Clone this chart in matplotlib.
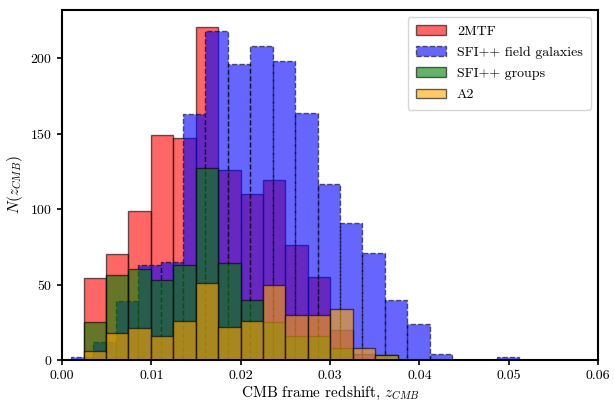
import numpy as np
import matplotlib
matplotlib.use('Agg')
import matplotlib.pyplot as plt

plt.rcParams['font.family'] = 'serif'
plt.rcParams['font.serif'] = ['cmr10']
plt.rcParams['mathtext.fontset'] = 'cm'
plt.rcParams['axes.unicode_minus'] = False
plt.rcParams['axes.formatter.use_mathtext'] = True

# bin layout
edges_2mtf = np.linspace(0.00242, 0.03756, 15)   # 2MTF, SFI++ groups and A2 share these
edges_sfi = np.linspace(0.0010, 0.05371, 22)     # SFI++ field galaxies

# counts per bin
n_2mtf = [54, 70, 99, 149, 147, 221, 126, 110, 119, 76, 55, 20, 4, 0]
n_sfi_field = [2, 12, 39, 63, 65, 163, 218, 196, 208, 198, 164, 117, 91, 71, 40, 24, 4, 0, 0, 2, 0]
n_sfi_groups = [25, 56, 60, 53, 63, 127, 64, 40, 25, 16, 16, 8, 0, 3]
n_a2 = [6, 18, 21, 16, 26, 51, 22, 26, 50, 30, 30, 34, 8, 3]

mid_2mtf = 0.5*(edges_2mtf[1:] + edges_2mtf[:-1])
mid_sfi = 0.5*(edges_sfi[1:] + edges_sfi[:-1])

fig = plt.figure(figsize=(6.14, 4.03), dpi=100)
ax = fig.add_axes([0.101, 0.107, 0.873, 0.868])

ax.hist(mid_2mtf, bins=edges_2mtf, weights=n_2mtf, color='red', alpha=0.6,
        edgecolor='k', lw=1.0, label='2MTF')
ax.hist(mid_sfi, bins=edges_sfi, weights=n_sfi_field, color='blue', alpha=0.6,
        edgecolor='k', lw=1.0, ls='--', label='SFI++ field galaxies')
ax.hist(mid_2mtf, bins=edges_2mtf, weights=n_sfi_groups, color='green', alpha=0.6,
        edgecolor='k', lw=1.0, label='SFI++ groups')
ax.hist(mid_2mtf, bins=edges_2mtf, weights=n_a2, color='orange', alpha=0.6,
        edgecolor='k', lw=1.0, label='A2')

ax.set_xlim(0, 0.06)
ax.set_xticks([0, 0.01, 0.02, 0.03, 0.04, 0.05, 0.06])
ax.set_xticklabels(['0.00', '0.01', '0.02', '0.03', '0.04', '0.05', '0.06'])
ax.set_xlabel(r'CMB frame redshift, $z_{CMB}$', fontsize=11, labelpad=1.5)
ax.set_ylabel(r'$N(z_{CMB})$', fontsize=11)
ax.tick_params(labelsize=10, width=1.2)
for s in ax.spines.values():
    s.set_linewidth(1.5)
ax.legend(loc='upper right', fontsize=10, handlelength=2.15,
          labelspacing=0.6, borderpad=0.6)

plt.savefig('out.png', dpi=100)
